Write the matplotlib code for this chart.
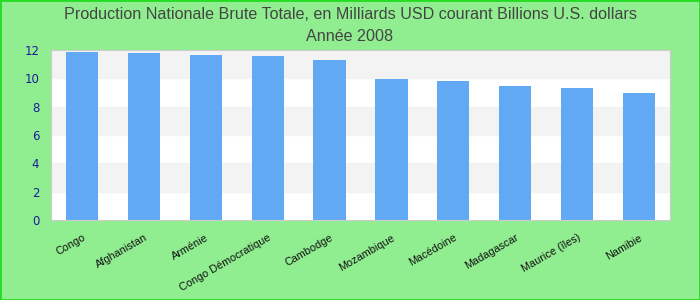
import matplotlib.pyplot as plt
from matplotlib.transforms import ScaledTranslation

pays = ["Congo", "Afghanistan", "Arménie", "Congo Démocratique", "Cambodge",
        "Mozambique", "Macédoine", "Madagascar", "Maurice (îles)", "Namibie"]
valeurs = [11.86, 11.79, 11.65, 11.57, 11.29, 9.95, 9.81, 9.46, 9.32, 8.96]
yticks = [0, 2, 4, 6, 8, 10, 12]

fig = plt.figure(figsize=(7, 3), dpi=100, facecolor="#90EE90")
fig.patches.append(plt.Rectangle((0, 0), 1, 1, transform=fig.transFigure,
                                 fill=False, edgecolor="#22dd22", linewidth=2))
ax = fig.add_axes([51 / 700, 80 / 300, 619 / 700, 170 / 300])
ax.set_facecolor("white")

# bandes grises alternées
for i in range(1, len(yticks) - 1, 2):
    ax.axhspan(yticks[i], yticks[i + 1], color="#f3f3f3", zorder=0)

x = range(len(pays))
ax.bar(x, valeurs, width=0.52, color="#62a9f4", zorder=2)

ax.set_xlim(-0.5, len(pays) - 0.5)
ax.set_ylim(0, 12)
ax.set_yticks(yticks)
ax.set_xticks(list(x))
ax.set_xticklabels(pays, rotation=30, ha="right", rotation_mode="anchor",
                   fontsize=7.8, family="Liberation Sans", color="#111111")
decal = ScaledTranslation(-8 / 100, 0, fig.dpi_scale_trans)
for lab in ax.get_xticklabels():
    lab.set_transform(lab.get_transform() + decal)
ax.tick_params(axis="x", length=0, pad=9)
ax.tick_params(axis="y", length=0, pad=8.5, labelsize=8.5, labelcolor="#1a1a9a")
for s in ax.spines.values():
    s.set_color("#cccccc")

fig.text(0.5, 0.953, "Production Nationale Brute Totale, en Milliards USD courant Billions U.S. dollars",
         ha="center", va="center", fontsize=11.6, color="#444444", family="Liberation Sans")
fig.text(0.5, 0.878, "Année 2008", ha="center", va="center", fontsize=11.6,
         color="#444444", family="Liberation Sans")

fig.savefig("out.png", dpi=100, facecolor=fig.get_facecolor())
